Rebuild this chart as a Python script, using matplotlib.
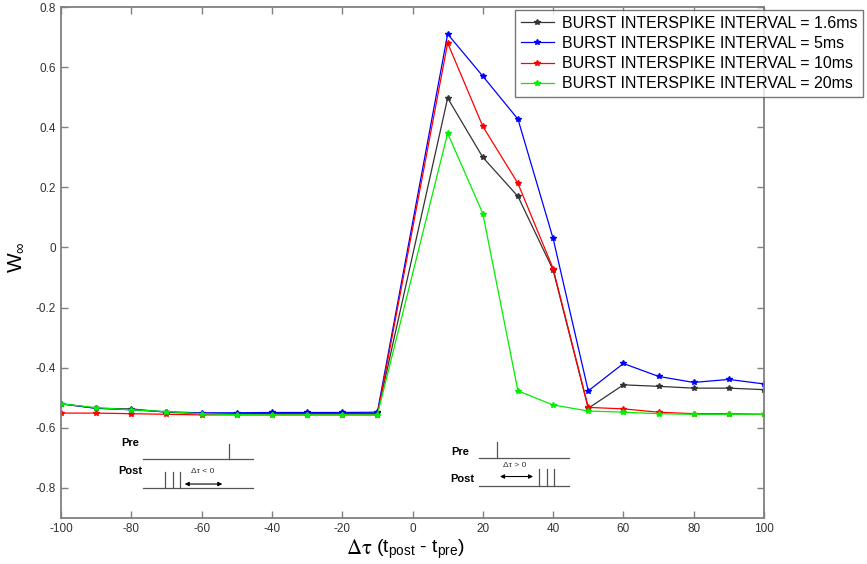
import numpy as np
import matplotlib
matplotlib.use('Agg')
import matplotlib.pyplot as plt

plt.rcParams['font.family'] = ['Liberation Sans', 'DejaVu Sans']
plt.rcParams['axes.unicode_minus'] = False
plt.rcParams['mathtext.fontset'] = 'custom'
plt.rcParams['mathtext.rm'] = 'Liberation Sans'
plt.rcParams['mathtext.it'] = 'Liberation Sans'

# delta tau values (ms)
dt = [-100, -90, -80, -70, -60, -50, -40, -30, -20, -10,
      10, 20, 30, 40, 50, 60, 70, 80, 90, 100]

w_1p6 = [-0.52, -0.535, -0.537, -0.548, -0.553, -0.553, -0.552, -0.552, -0.552, -0.552,
         0.497, 0.30, 0.17, -0.075, -0.535, -0.457, -0.462, -0.468, -0.468, -0.473]
w_5 = [-0.52, -0.535, -0.54, -0.547, -0.55, -0.55, -0.549, -0.549, -0.549, -0.548,
       0.71, 0.57, 0.427, 0.03, -0.477, -0.386, -0.429, -0.449, -0.439, -0.454]
w_10 = [-0.551, -0.551, -0.553, -0.555, -0.557, -0.557, -0.557, -0.557, -0.557, -0.557,
        0.68, 0.403, 0.213, -0.07, -0.532, -0.537, -0.548, -0.553, -0.553, -0.555]
w_20 = [-0.52, -0.533, -0.54, -0.546, -0.553, -0.556, -0.557, -0.557, -0.557, -0.557,
        0.38, 0.113, -0.477, -0.524, -0.544, -0.548, -0.553, -0.555, -0.555, -0.555]

labels = ['BURST INTERSPIKE INTERVAL = 1.6ms', 'BURST INTERSPIKE INTERVAL = 5ms',
          'BURST INTERSPIKE INTERVAL = 10ms', 'BURST INTERSPIKE INTERVAL = 20ms']
colors = ['#333333', '#0000ff', '#ff0000', '#00ee00']

fig = plt.figure(figsize=(8.67, 5.64), dpi=100)
ax = fig.add_axes([61/867, 1-518/564, (764-61)/867, (518-7)/564])

for w, lab, c in zip([w_1p6, w_5, w_10, w_20], labels, colors):
    ax.plot(dt, w, color=c, lw=0.9, marker='*', ms=4, label=lab)

ax.set_xlim(-100, 100)
ax.set_ylim(-0.9, 0.8)
ax.set_xticks(np.arange(-100, 101, 20))
ax.set_yticks(np.round(np.arange(-0.8, 0.81, 0.2), 1))
ax.set_yticklabels(['-0.8', '-0.6', '-0.4', '-0.2', '0', '0.2', '0.4', '0.6', '0.8'])
ax.tick_params(direction='in', top=True, right=True, length=5, width=1,
               color='#808080', labelcolor='#333333', labelsize=8.5)
for s in ax.spines.values():
    s.set_color('#808080')
    s.set_linewidth(1.3)

# x label: serif delta-tau followed by sans text
fig.text(372/867, 1-549/564, r'$\mathrm{\Delta\tau}$', fontsize=15, math_fontfamily='stix',
         ha='right', va='center')
fig.text(376/867, 1-549/564, r'(t$_{\mathrm{post}}$ - t$_{\mathrm{pre}}$)', fontsize=14, ha='left', va='center')

ax.set_ylabel(r'W$_{\infty}$', fontsize=15, va='center')
ax.yaxis.set_label_coords(-0.063, 0.51)

leg = ax.legend(loc='upper left', bbox_to_anchor=(515/867, 1-10/564), bbox_transform=fig.transFigure,
                fontsize=11.5, frameon=True, fancybox=False, handlelength=2.1,
                borderpad=0.35, labelspacing=0.33, handletextpad=0.5, borderaxespad=0)
leg.get_frame().set_edgecolor('#555555')
leg.get_frame().set_linewidth(1.0)

# schematic insets (Pre / Post spike timing)
sc = '#555555'
# left: delta tau < 0
ax.plot([-76.7, -45.4], [-0.703, -0.703], color=sc, lw=0.9)
ax.plot([-52.2, -52.2], [-0.703, -0.653], color=sc, lw=0.9)
ax.plot([-76.7, -45.4], [-0.80, -0.80], color=sc, lw=0.9)
for xs in [-70.4, -68.1, -66.1]:
    ax.plot([xs, xs], [-0.80, -0.747], color=sc, lw=0.9)
ax.annotate('', xy=(-65.6, -0.787), xytext=(-53.3, -0.787),
            arrowprops=dict(arrowstyle='<|-|>', color='black', lw=0.8, mutation_scale=6))
ax.text(-59.6, -0.745, 'Δτ < 0', fontsize=6, ha='center', va='center', color='#333333')
ax.text(-80.4, -0.652, 'Pre', fontsize=8, fontweight='bold', ha='center', va='center')
ax.text(-80.3, -0.745, 'Post', fontsize=8, fontweight='bold', ha='center', va='center')

# right: delta tau > 0
ax.plot([19.0, 44.6], [-0.701, -0.701], color=sc, lw=0.9)
ax.plot([24.0, 24.0], [-0.701, -0.648], color=sc, lw=0.9)
ax.plot([19.0, 44.6], [-0.792, -0.792], color=sc, lw=0.9)
for xs in [36.0, 38.2, 40.3]:
    ax.plot([xs, xs], [-0.792, -0.737], color=sc, lw=0.9)
ax.annotate('', xy=(24.1, -0.762), xytext=(35.1, -0.762),
            arrowprops=dict(arrowstyle='<|-|>', color='black', lw=0.8, mutation_scale=6))
ax.text(29.2, -0.726, 'Δτ > 0', fontsize=6, ha='center', va='center', color='#333333')
ax.text(13.7, -0.682, 'Pre', fontsize=8, fontweight='bold', ha='center', va='center')
ax.text(14.3, -0.771, 'Post', fontsize=8, fontweight='bold', ha='center', va='center')

fig.savefig('out.png', dpi=100)
